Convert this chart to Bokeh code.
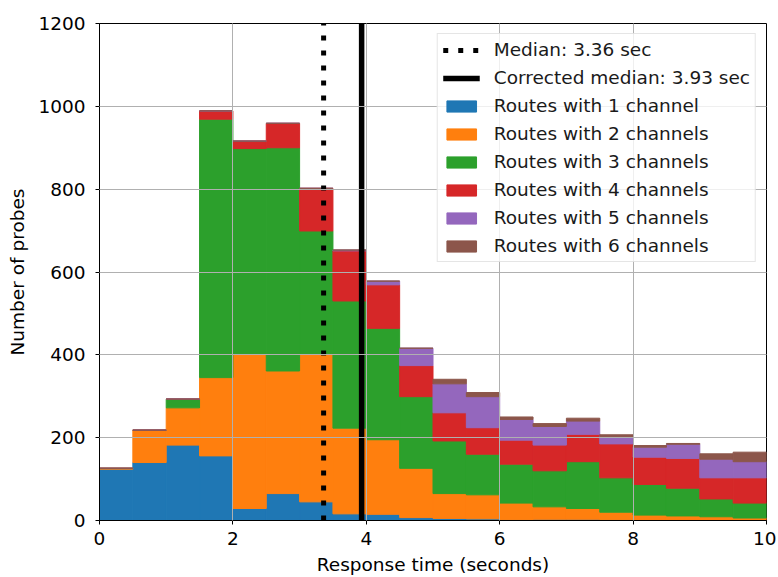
from bokeh.plotting import figure
from bokeh.models import Legend, LegendItem, Range1d, FixedTicker, ColumnDataSource
from bokeh.embed import file_html
from bokeh.resources import INLINE

# Histogram bins (seconds)
bin_edges = [0.0, 0.5, 1.0, 1.5, 2.0, 2.5, 3.0, 3.5, 4.0, 4.5, 5.0,
             5.5, 6.0, 6.5, 7.0, 7.5, 8.0, 8.5, 9.0, 9.5, 10.0]

# Counts per bin for each route type (stacked)
routes_1 = [124, 140, 182, 156, 29, 65, 45, 16, 15, 7, 5, 4, 2, 3, 3, 2, 1, 1, 0, 0]
routes_2 = [2, 78, 90, 189, 374, 296, 358, 207, 180, 119, 60, 58, 40, 30, 26, 18, 12, 10, 9, 6]
routes_3 = [0, 0, 21, 624, 495, 539, 296, 307, 269, 173, 127, 98, 94, 87, 113, 83, 74, 67, 43, 36]
routes_4 = [0, 0, 0, 20, 18, 59, 103, 121, 105, 75, 68, 64, 58, 62, 66, 82, 66, 72, 51, 61]
routes_5 = [0, 0, 0, 0, 0, 0, 0, 2, 9, 42, 70, 75, 50, 45, 32, 18, 24, 34, 45, 39]
routes_6 = [0, 0, 0, 0, 0, 0, 0, 0, 0, 0, 11, 10, 6, 7, 7, 4, 4, 2, 13, 23]

series_names = ["Routes with 1 channel", "Routes with 2 channels", "Routes with 3 channels",
                "Routes with 4 channels", "Routes with 5 channels", "Routes with 6 channels"]
series_colors = ["#1f77b4", "#ff7f0e", "#2ca02c", "#d62728", "#9467bd", "#8c564b"]

median = 3.36
corrected_median = 3.93

x_ticks = [0, 2, 4, 6, 8, 10]
y_ticks = [0, 200, 400, 600, 800, 1000, 1200]
x_min, x_max = 0, 10
y_min, y_max = 0, 1200

FONT = "DejaVu Sans"
FS = "18.5px"

p = figure(width=776, height=577, output_backend="svg", toolbar_location=None,
           x_range=Range1d(x_min, x_max), y_range=Range1d(y_min, y_max),
           min_border_left=99, min_border_right=10, min_border_top=23, min_border_bottom=57)

centers = [(bin_edges[i] + bin_edges[i + 1]) / 2 for i in range(len(bin_edges) - 1)]
widths = [bin_edges[i + 1] - bin_edges[i] for i in range(len(bin_edges) - 1)]
data = {"x": centers, "w": widths}
keys = ["r1", "r2", "r3", "r4", "r5", "r6"]
for k, s in zip(keys, [routes_1, routes_2, routes_3, routes_4, routes_5, routes_6]):
    data[k] = s
src = ColumnDataSource(data)

bars = p.vbar_stack(keys, x="x", width="w", source=src, color=series_colors,
                    line_width=1)

med = p.segment(x0=median, y0=y_min, x1=median, y1=y_max, line_color="black",
                line_width=5, line_dash="5 10")
cmed = p.segment(x0=corrected_median, y0=y_min, x1=corrected_median, y1=y_max,
                 line_color="black", line_width=5.5)

items = [LegendItem(label="Median: 3.36 sec", renderers=[med]),
         LegendItem(label="Corrected median: 3.93 sec", renderers=[cmed])]
for name, r in zip(series_names, bars):
    items.append(LegendItem(label=name, renderers=[r]))

legend = Legend(items=items, location="top_right", margin=10, padding=5, spacing=7,
                label_text_font=FONT, label_text_font_size=FS, label_height=20,
                label_text_color="#1a1a1a",
                glyph_width=37, glyph_height=14, label_standoff=14,
                border_line_color="#cccccc", border_line_width=1,
                background_fill_color="white", background_fill_alpha=0.8)
p.add_layout(legend)

# axes
p.xaxis.ticker = FixedTicker(ticks=x_ticks)
p.yaxis.ticker = FixedTicker(ticks=y_ticks)
p.xaxis.axis_label = "Response time (seconds)"
p.yaxis.axis_label = "Number of probes"
for ax in (p.xaxis, p.yaxis):
    ax.axis_label_text_font = FONT
    ax.axis_label_text_font_size = FS
    ax.axis_label_text_font_style = "normal"
    ax.axis_label_text_color = "black"
    ax.major_label_text_font = FONT
    ax.major_label_text_font_size = FS
    ax.major_label_text_color = "black"
    ax.axis_line_color = "black"
    ax.major_tick_line_color = "black"
    ax.major_tick_out = 4
    ax.major_tick_in = 0
    ax.minor_tick_line_color = None
p.xaxis.major_label_standoff = 7
p.xaxis.axis_label_standoff = 6
p.yaxis.major_label_standoff = 10
p.yaxis.axis_label_standoff = 7

p.grid.grid_line_color = "#b0b0b0"
p.grid.grid_line_width = 1
p.grid.level = "guide"

p.outline_line_color = "black"
p.outline_line_width = 1
p.background_fill_color = "white"
p.border_fill_color = "white"

open("out.html", "w").write(file_html(p, INLINE))
